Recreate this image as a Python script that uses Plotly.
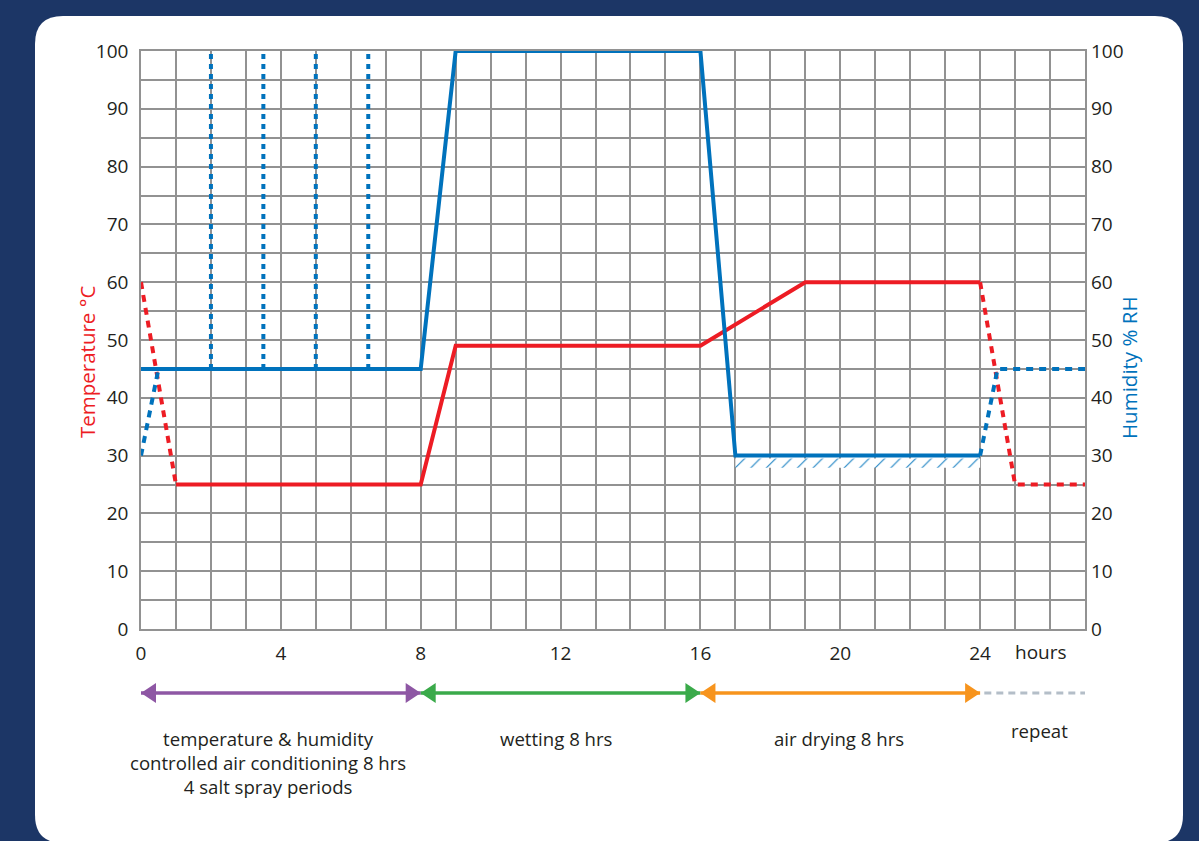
import plotly.graph_objects as go

# ---------------- data ----------------
hours_temp = [1, 8, 9, 16, 19, 24]
temp_c = [25, 25, 49, 49, 60, 60]
hours_temp_lead = [0, 1]
temp_lead = [60, 25]
hours_temp_next = [24, 25, 27]
temp_next = [60, 25, 25]

hours_rh = [0, 8, 9, 16, 17, 24]
rh_pct = [45, 45, 100, 100, 30, 30]
hours_rh_lead = [0, 0.5]
rh_lead = [30, 45]
hours_rh_next = [24, 24.5, 27]
rh_next = [30, 45, 45]

spray_hours = [2, 3.5, 5, 6.5]
spray_rh = [45, 100]

x_tick_vals = [0, 4, 8, 12, 16, 20, 24]
y_tick_vals = [0, 10, 20, 30, 40, 50, 60, 70, 80, 90, 100]

phase_start = [0, 8, 16]
phase_end = [8, 16, 24]
phase_label_x = [3.64, 11.87, 19.97]
phase_labels = [
    "temperature &amp; humidity<br>controlled air conditioning 8 hrs<br>4 salt spray periods",
    "wetting 8 hrs",
    "air drying 8 hrs",
]
repeat_span = [24, 27]
repeat_label_x = 25.7
repeat_label = "repeat"
hours_label_x = 25.75

# ---------------- style ----------------
RED = "#ed1c24"
BLUE = "#0072bc"
PHASE_COLORS = ["#8e57a4", "#3aaa4a", "#f7941d"]
GREY_DASH = "#b4bec8"
NAVY = "#1c3666"
GRID = "#929292"
TXT = "#231f20"
FONT = "Open Sans"

W, H = 1199, 841
L, R, T, B = 141, 1085, 51, 629


def px(xp):
    return (xp - L) / (R - L)


def py(yp):
    return (B - yp) / (B - T)


fig = go.Figure()

# hatch under dry-phase humidity
hx0, hx1 = hours_rh[4], hours_rh[5]
hlow = rh_pct[5]
fig.add_trace(go.Scatter(
    x=[hx0, hx1, hx1, hx0, hx0],
    y=[hlow - 2.1, hlow - 2.1, hlow - 0.5, hlow - 0.5, hlow - 2.1],
    mode="lines", fill="toself", line=dict(width=0, color="rgba(0,0,0,0)"),
    fillcolor="rgba(0,0,0,0)",
    fillpattern=dict(shape="/", fgcolor=BLUE, bgcolor="white", size=11,
                     solidity=0.1, fgopacity=0.9),
    hoverinfo="skip", yaxis="y2", showlegend=False,
))

# salt spray periods (vertical dotted)
sx, sy = [], []
for h in spray_hours:
    sx += [h, h, None]
    sy += [spray_rh[0], spray_rh[1], None]
fig.add_trace(go.Scatter(x=sx, y=sy, mode="lines", yaxis="y2",
                         line=dict(color=BLUE, width=4, dash="5px,5px"),
                         hoverinfo="skip", showlegend=False))

# temperature
fig.add_trace(go.Scatter(x=hours_temp_lead, y=temp_lead, mode="lines",
                         line=dict(color=RED, width=4, dash="7px,6px"),
                         showlegend=False))
fig.add_trace(go.Scatter(x=hours_temp_next, y=temp_next, mode="lines",
                         line=dict(color=RED, width=4, dash="7px,6px"),
                         showlegend=False))
fig.add_trace(go.Scatter(x=hours_temp, y=temp_c, mode="lines",
                         line=dict(color=RED, width=4), showlegend=False))

# humidity
fig.add_trace(go.Scatter(x=hours_rh_lead, y=rh_lead, mode="lines", yaxis="y2",
                         line=dict(color=BLUE, width=4, dash="7px,6px"),
                         showlegend=False))
fig.add_trace(go.Scatter(x=hours_rh_next, y=rh_next, mode="lines", yaxis="y2",
                         line=dict(color=BLUE, width=4, dash="7px,6px"),
                         showlegend=False))
fig.add_trace(go.Scatter(x=hours_rh, y=rh_pct, mode="lines", yaxis="y2",
                         line=dict(color=BLUE, width=4), showlegend=False))

shapes = []
# rounded white card
cx0, cx1, cy0, cy1 = px(35), px(1183), py(843), py(16)
rx, ry = 28 / (R - L), 28 / (B - T)
card = (f"M{cx0+rx},{cy1} L{cx1-rx},{cy1} Q{cx1},{cy1} {cx1},{cy1-ry} "
        f"L{cx1},{cy0+ry} Q{cx1},{cy0} {cx1-rx},{cy0} "
        f"L{cx0+rx},{cy0} Q{cx0},{cy0} {cx0},{cy0+ry} "
        f"L{cx0},{cy1-ry} Q{cx0},{cy1} {cx0+rx},{cy1} Z")
shapes.append(dict(type="path", path=card, xref="paper", yref="paper",
                   fillcolor="white", line=dict(width=0), layer="below"))

# phase arrows
ay = py(693)
for s, e, c in zip(phase_start, phase_end, PHASE_COLORS):
    shapes.append(dict(type="line", xref="x", yref="paper", x0=s, x1=e,
                       y0=ay, y1=ay, line=dict(color=c, width=3.5)))
    shapes.append(dict(type="path", xref="x", yref="paper",
                       xsizemode="pixel", ysizemode="pixel",
                       xanchor=s, yanchor=ay,
                       path="M0,0 L15,10 L15,-10 Z",
                       fillcolor=c, line=dict(width=0)))
    shapes.append(dict(type="path", xref="x", yref="paper",
                       xsizemode="pixel", ysizemode="pixel",
                       xanchor=e, yanchor=ay,
                       path="M0,0 L-15,10 L-15,-10 Z",
                       fillcolor=c, line=dict(width=0)))
shapes.append(dict(type="line", xref="x", yref="paper",
                   x0=repeat_span[0] + 0.12, x1=repeat_span[1],
                   y0=ay, y1=ay, line=dict(color=GREY_DASH, width=3, dash="7px,5px")))

annotations = []
for x, t in zip(phase_label_x, phase_labels):
    annotations.append(dict(x=x, xref="x", y=py(724), yref="paper",
                            text=t, showarrow=False, xanchor="center", yanchor="top",
                            align="center", font=dict(family=FONT, size=18.6, color=TXT)))
annotations.append(dict(x=repeat_label_x, xref="x", y=py(716), yref="paper",
                        text=repeat_label, showarrow=False, xanchor="center", yanchor="top",
                        font=dict(family=FONT, size=18.6, color=TXT)))
annotations.append(dict(x=hours_label_x, xref="x", y=py(652), yref="paper",
                        text="hours", showarrow=False, xanchor="center", yanchor="middle",
                        font=dict(family=FONT, size=19, color=TXT)))
annotations.append(dict(x=px(87), xref="paper", y=py(362), yref="paper",
                        text="Temperature °C", textangle=-90, showarrow=False,
                        xanchor="center", yanchor="middle",
                        font=dict(family=FONT, size=20.5, color=RED)))
annotations.append(dict(x=px(1129), xref="paper", y=py(368), yref="paper",
                        text="Humidity % RH", textangle=-90, showarrow=False,
                        xanchor="center", yanchor="middle",
                        font=dict(family=FONT, size=20.5, color=BLUE)))

axis_common = dict(showline=True, linecolor=GRID, linewidth=1.5, mirror=True,
                   showgrid=True, gridcolor=GRID, gridwidth=1.5, zeroline=False,
                   ticks="", tickfont=dict(family=FONT, size=19, color=TXT))

fig.update_layout(
    width=W, height=H,
    margin=dict(l=L, r=W - R, t=T, b=H - B, pad=0),
    paper_bgcolor=NAVY, plot_bgcolor="white",
    showlegend=False,
    xaxis=dict(range=[0, 27], tickvals=x_tick_vals, ticklabelstandoff=6,
               minor=dict(dtick=1, showgrid=True, gridcolor=GRID, gridwidth=1.5),
               **axis_common),
    yaxis=dict(range=[0, 100], tickvals=y_tick_vals, ticklabelstandoff=7,
               minor=dict(dtick=5, showgrid=True, gridcolor=GRID, gridwidth=1.5),
               **axis_common),
    yaxis2=dict(range=[0, 100], tickvals=y_tick_vals, overlaying="y", side="right",
                showgrid=False, zeroline=False, showline=False, ticks="",
                ticklabelstandoff=5,
                tickfont=dict(family=FONT, size=19, color=TXT)),
    shapes=shapes,
    annotations=annotations,
)

fig.write_html(
    "out.html",
    config={"displayModeBar": False},
    post_script="document.body.style.margin='0';"
                "document.body.style.background='" + NAVY + "';",
)
